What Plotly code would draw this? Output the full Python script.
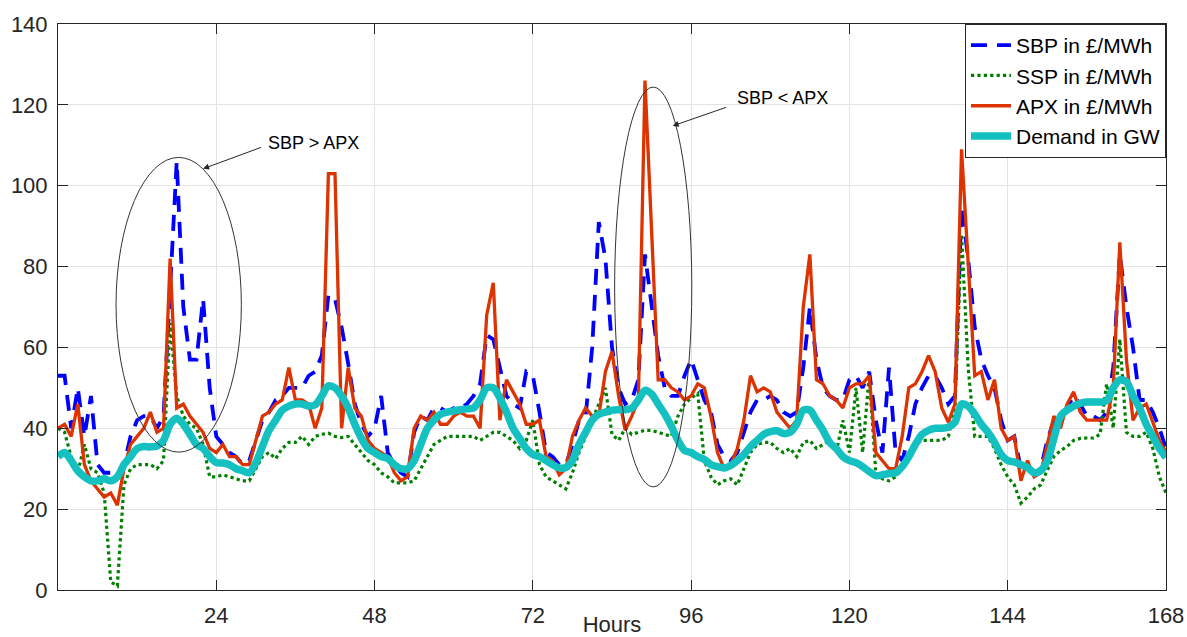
import numpy as np
import plotly.graph_objects as go

hours = np.arange(0, 169)

sbp = [53, 53, 40, 50, 38, 48, 31, 29, 29, 28, 31, 38,
       42, 43, 43, 40, 43, 75, 106, 70, 57, 57, 72, 50,
       38, 36, 34, 33, 31, 32, 37, 42, 44, 47, 48, 50,
       50, 50, 53, 54, 58, 73, 72, 65, 56, 46, 41, 38,
       40, 48, 34, 31, 29, 28, 39, 43, 42, 45, 45, 44,
       45, 45, 46, 48, 51, 63, 62, 55, 48, 46, 45, 54,
       53, 44, 34, 33, 31, 31, 36, 42, 43, 60, 91, 82,
       60, 50, 46, 47, 52, 83, 70, 58, 50, 48, 48, 53,
       57, 52, 47, 44, 36, 33, 32, 34, 39, 44, 47, 47,
       48, 47, 44, 43, 44, 55, 70, 57, 50, 48, 47, 47,
       52, 53, 50, 54, 42, 34, 55, 34, 32, 38, 46, 50,
       53, 53, 50, 46, 48, 95, 82, 65, 57, 53, 50, 42,
       37, 38, 30, 31, 29, 30, 37, 42, 43, 45, 48, 46,
       43, 43, 42, 44, 55, 83, 70, 60, 47, 47, 44, 40,
       35]

ssp = [40, 39, 33, 29, 36, 30, 29, 24, 2, 1, 26, 30,
       31, 31, 31, 30, 32, 66, 48, 43, 41, 40, 36, 28,
       28, 28.5, 28, 27.5, 27, 27, 30, 33, 34, 32.5, 35, 36.5,
       36.5, 38, 36, 38, 38.5, 38.8, 38, 37.7, 38, 36, 34, 32,
       31, 29, 28, 26.5, 26.5, 26.5, 27, 30, 33, 36, 37, 38,
       38, 38, 38, 38, 37, 38, 39, 39, 38, 37, 35, 37,
       42, 31, 28, 27, 26, 25, 29, 34, 38, 42, 46, 50,
       38.5, 37, 40, 38.5, 39, 39.5, 39.5, 39, 38.5, 38, 43, 46,
       47.5, 48.6, 32, 28, 26, 27, 27.5, 26, 30, 34, 36, 36.5,
       36.5, 35, 34, 35, 33, 36.5, 37, 35, 36, 37, 34, 42,
       34, 50, 34, 53, 29, 27.5, 27, 28, 30, 34, 36, 37,
       37, 37, 37, 38, 45, 88, 55, 38, 38, 38, 35, 31,
       28, 26, 21.5, 23, 25, 26, 29.6, 33, 34.5, 35.5, 37, 37.5,
       37.6, 37.6, 38.5, 51, 40, 62, 39, 38, 38, 39, 35, 28,
       24]

apx = [40, 41, 38, 46, 31, 27, 25, 23, 24, 21, 30, 36,
       38, 40, 44, 39, 40, 82, 45, 46, 43, 41, 39, 35,
       34, 36, 33, 33, 31, 31, 37, 43, 44, 46, 47, 55,
       47, 47, 46, 40, 45, 103, 103, 40, 55, 45, 43, 37,
       35, 34, 33, 29, 27, 28, 40, 43, 42, 44, 41, 41,
       43, 44, 43, 43, 40, 68, 76, 42, 52, 49, 46, 41,
       41, 42, 33, 32, 28.5, 30, 38, 42, 45, 43, 43, 54,
       59, 48, 39.5, 43, 47, 126, 90, 52, 52, 50, 49, 47,
       48, 51, 50, 43, 34, 30, 31, 35, 42, 53, 49, 50,
       49, 44, 42, 40, 42, 70, 83, 52, 51, 48, 47, 45,
       50, 51, 51, 53, 34, 32, 30, 30, 38, 50, 51, 54,
       58, 54, 45, 41.5, 46, 109, 82, 53, 54, 47, 52, 40,
       37, 38, 27, 32, 28, 29, 36, 43, 40, 46, 49, 44,
       42, 42, 42, 42, 50, 86, 57, 42, 45, 46, 41.5, 37,
       34]

demand = [33, 34, 32, 29.5, 28, 27, 27, 27.5, 27, 28, 31, 33,
          35, 35.5, 35.4, 35.6, 37, 41, 42.5, 41, 38.5, 36, 35, 33,
          31.5, 31.4, 31, 30, 29.5, 29, 31.5, 35.5, 39.5, 42, 44.5, 45.5,
          46, 46, 45.5, 45.8, 48, 50.5, 50, 48, 45, 41, 37.5, 35,
          34, 33, 32.5, 31, 30, 30, 32, 36, 40, 42, 43.5, 44,
          44.3, 44.6, 44.8, 45, 47, 50, 50, 47.5, 44, 40, 37.5, 35,
          33.5, 33, 32, 31, 30.2, 30.3, 32, 36, 39, 42, 43.5, 44,
          44.5, 44.6, 44.6, 45, 47, 49.4, 48.5, 46, 43.5, 40.5, 37, 34.5,
          34, 33, 32.3, 31, 30.5, 30.2, 30.8, 32, 33.5, 35.5, 37, 38.5,
          39.2, 39.4, 38.7, 39, 41, 44.5, 44.5, 42, 39.5, 36.5, 35, 33,
          32, 31.5, 30.5, 29.3, 28.3, 28.5, 28.8, 29, 30.5, 33, 36, 38.5,
          39.5, 40, 40, 40.3, 41.5, 46, 45.5, 43.5, 41, 39, 36.5, 33.5,
          32, 31.7, 31, 30.3, 29, 29.5, 32, 37.5, 43, 44.5, 45.5, 46.2,
          46.5, 46.5, 46.5, 46.8, 50, 52, 51.5, 48, 45, 41, 38, 35,
          32.8]

x_ticks = [24, 48, 72, 96, 120, 144, 168]
y_ticks = [0, 20, 40, 60, 80, 100, 120, 140]

AX = '#262626'
FONT = 'Liberation Sans'

fig = go.Figure()
fig.add_trace(go.Scatter(x=hours, y=sbp, mode='lines', name='SBP in £/MWh',
                         line=dict(color='#0000ff', width=3.8, dash='16px,10px')))
fig.add_trace(go.Scatter(x=hours, y=ssp, mode='lines', name='SSP in £/MWh',
                         line=dict(color='#008000', width=3.2, dash='dot')))
fig.add_trace(go.Scatter(x=hours, y=apx, mode='lines', name='APX in £/MWh',
                         line=dict(color='#dd3300', width=3.3)))
fig.add_trace(go.Scatter(x=hours, y=demand, mode='lines', name='Demand in GW',
                         line=dict(color='#14c0c0', width=7.5, shape='spline', smoothing=0.8)))

# ellipses
fig.add_shape(type='circle', xref='x', yref='y', x0=8.8, x1=27.8, y0=34.1, y1=107,
              line=dict(color='#333333', width=1))
fig.add_shape(type='circle', xref='x', yref='y', x0=84.4, x1=96.1, y0=25.5, y1=124.4,
              line=dict(color='#333333', width=1))

# arrows
for tip, tail in [((22.0, 104.2), (31.0, 109.6)), ((93.2, 114.8), (101.5, 119.5))]:
    fig.add_annotation(x=tip[0], y=tip[1], ax=tail[0], ay=tail[1], axref='x', ayref='y',
                       xref='x', yref='y', text='', showarrow=True, arrowhead=2,
                       arrowsize=1.2, arrowwidth=1, arrowcolor=AX, standoff=0, startstandoff=0)
fig.add_annotation(x=31.6, y=110.6, xref='x', yref='y', text='SBP > APX', showarrow=False,
                   xanchor='left', yanchor='middle', font=dict(size=18, color='#000000', family=FONT))
fig.add_annotation(x=102.6, y=121.7, xref='x', yref='y', text='SBP < APX', showarrow=False,
                   xanchor='left', yanchor='middle', font=dict(size=18, color='#000000', family=FONT))

fig.update_layout(
    width=1187, height=637,
    margin=dict(l=58, r=21, t=24, b=47, autoexpand=False),
    plot_bgcolor='white', paper_bgcolor='white',
    font=dict(family=FONT, color=AX, size=21),
    showlegend=True,
    legend=dict(x=1, y=1, xanchor='right', yanchor='top', bgcolor='white',
                bordercolor=AX, borderwidth=1, font=dict(size=21, color='#000000'),
                itemwidth=40, tracegroupgap=0),
)
fig.update_xaxes(range=[0, 168], tickvals=x_ticks, ticks='inside', ticklen=10, tickcolor=AX,
                 showline=True, linecolor=AX, linewidth=1, mirror='ticks', automargin=False,
                 showgrid=True, gridcolor='#e3e3e3', zeroline=False,
                 tickfont=dict(size=22), ticklabelstandoff=6,
                 title=dict(text='Hours', font=dict(size=22), standoff=0))
fig.update_yaxes(range=[0, 140], tickvals=y_ticks, ticks='inside', ticklen=10, tickcolor=AX,
                 showline=True, linecolor=AX, linewidth=1, mirror='ticks', automargin=False,
                 showgrid=True, gridcolor='#e3e3e3', zeroline=False,
                 tickfont=dict(size=22), ticklabelstandoff=5)

fig.write_html('out.html')
